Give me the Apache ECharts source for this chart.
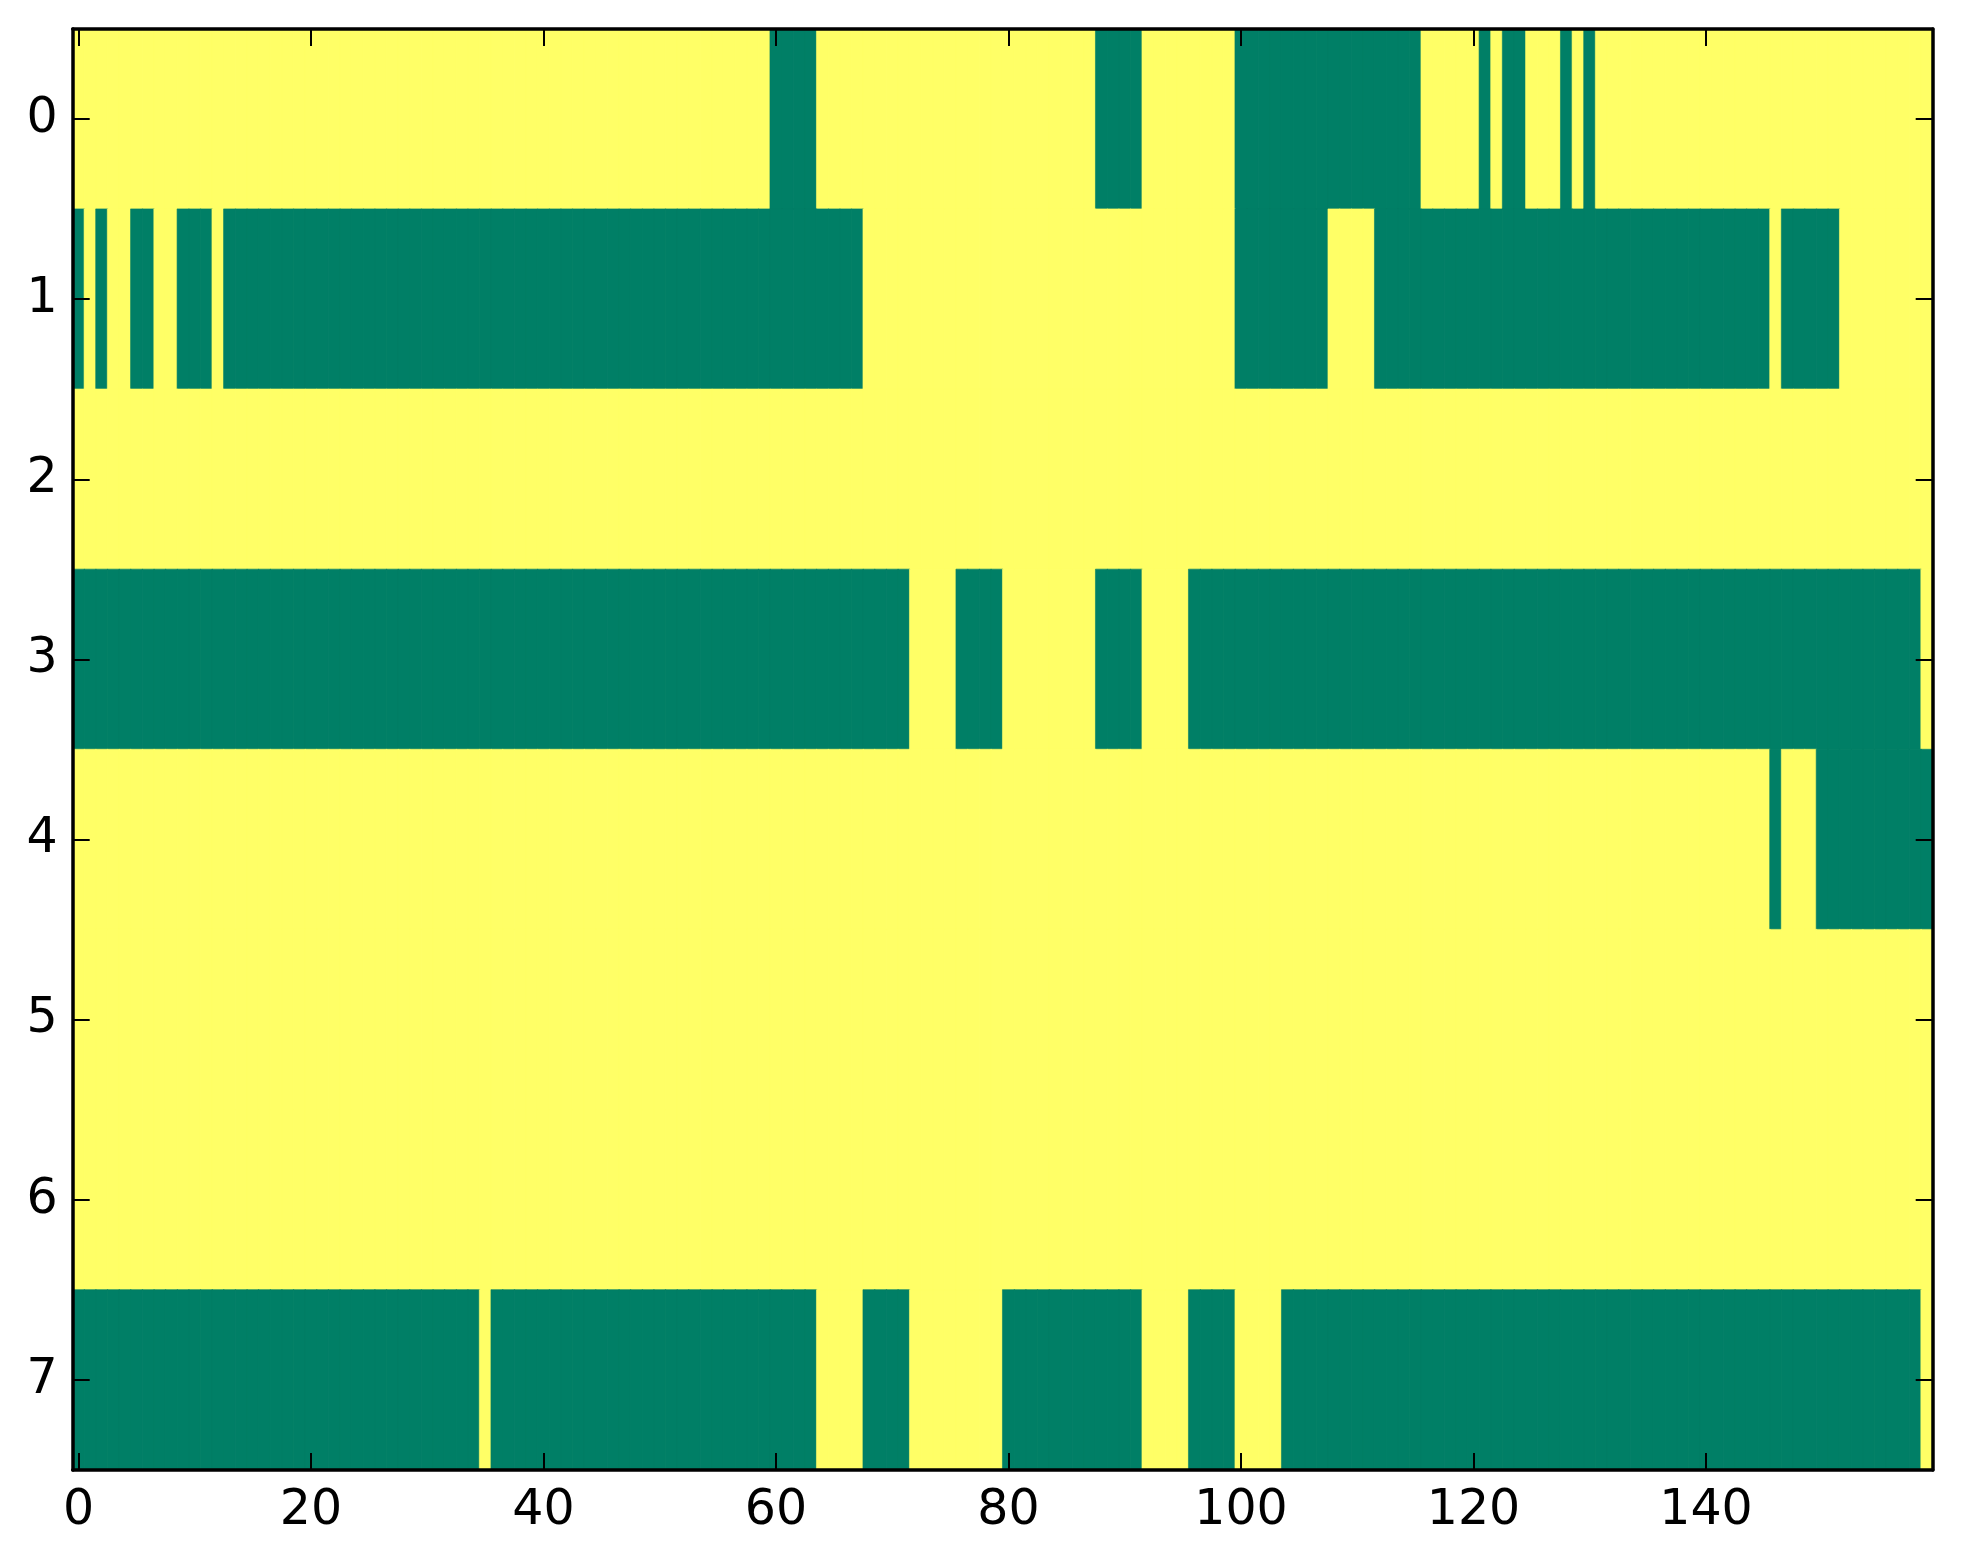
<!DOCTYPE html>
<html>
<head>
<meta charset="utf-8">
<style>
  html, body { margin: 0; padding: 0; background: #fff; }
  #chart { width: 1963px; height: 1564px; }
</style>
<script src="https://cdn.jsdelivr.net/npm/echarts@6/dist/echarts.min.js"></script>
</head>
<body>
<div id="chart"></div>
<script>
// one string per row, one digit per column (1 = green, 0 = yellow), grouped by tens
const row0 = '0000000000 0000000000 0000000000 0000000000 0000000000 0000000000 1111000000 0000000000 0000000011 1100000000 1111111111 1111110000 0101100010 1000000000 0000000000 0000000000';
const row1 = '1010011001 1101111111 1111111111 1111111111 1111111111 1111111111 1111111100 0000000000 0000000000 0000000000 1111111100 0011111111 1111111111 1111111111 1111110111 1100000000';
const row2 = '0000000000 0000000000 0000000000 0000000000 0000000000 0000000000 0000000000 0000000000 0000000000 0000000000 0000000000 0000000000 0000000000 0000000000 0000000000 0000000000';
const row3 = '1111111111 1111111111 1111111111 1111111111 1111111111 1111111111 1111111111 1100001111 0000000011 1100001111 1111111111 1111111111 1111111111 1111111111 1111111111 1111111110';
const row4 = '0000000000 0000000000 0000000000 0000000000 0000000000 0000000000 0000000000 0000000000 0000000000 0000000000 0000000000 0000000000 0000000000 0000000000 0000001000 1111111111';
const row5 = '0000000000 0000000000 0000000000 0000000000 0000000000 0000000000 0000000000 0000000000 0000000000 0000000000 0000000000 0000000000 0000000000 0000000000 0000000000 0000000000';
const row6 = '0000000000 0000000000 0000000000 0000000000 0000000000 0000000000 0000000000 0000000000 0000000000 0000000000 0000000000 0000000000 0000000000 0000000000 0000000000 0000000000';
const row7 = '1111111111 1111111111 1111111111 1111101111 1111111111 1111111111 1111000011 1100000000 1111111111 1100001111 0000111111 1111111111 1111111111 1111111111 1111111111 1111111110';

const rows = [row0, row1, row2, row3, row4, row5, row6, row7];
const rowLabels = ['0', '1', '2', '3', '4', '5', '6', '7'];
const xTickLabels = ['0', '20', '40', '60', '80', '100', '120', '140'];

const colorOn = '#007f66';
const colorOff = '#ffff66';

const grid = rows.map(r => r.replace(/\s/g, ''));
const columns = grid[0].split('').map((_, i) => String(i));

const cells = [];
grid.forEach((r, y) => {
  r.split('').forEach((v, x) => {
    const c = v === '1' ? colorOn : colorOff;
    cells.push({
      value: [x, y, Number(v)],
      // border in the same colour hides hairline seams between cells
      itemStyle: { color: c, borderColor: c, borderWidth: 0.6 }
    });
  });
});

const showTick = (index, value) => xTickLabels.indexOf(String(value)) !== -1;
const font = 'DejaVu Sans';
const line = { show: true, onZero: false, lineStyle: { color: '#000', width: 3.5 } };
const tick = { show: true, inside: true, length: 17, alignWithLabel: true, lineStyle: { color: '#000', width: 2 } };

const chart = echarts.init(document.getElementById('chart'), null, { renderer: 'canvas' });
chart.setOption({
  animation: false,
  backgroundColor: '#fff',
  grid: { left: 72.7, right: 30.3, top: 29, bottom: 94, containLabel: false },
  xAxis: [
    {
      type: 'category', data: columns, position: 'bottom', z: 10,
      axisLine: line,
      axisTick: Object.assign({}, tick, { interval: showTick }),
      axisLabel: { interval: showTick, margin: 17, color: '#000', fontSize: 49, fontFamily: font },
      splitLine: { show: false }
    },
    {
      type: 'category', data: columns, position: 'top', z: 10,
      axisLine: line,
      axisTick: Object.assign({}, tick, { interval: showTick }),
      axisLabel: { show: false },
      splitLine: { show: false }
    }
  ],
  yAxis: [
    {
      type: 'category', data: rowLabels, inverse: true, position: 'left', z: 10,
      axisLine: line,
      axisTick: Object.assign({}, tick, { interval: 0 }),
      axisLabel: { interval: 0, margin: 15, color: '#000', fontSize: 49, fontFamily: font },
      splitLine: { show: false }
    },
    {
      type: 'category', data: rowLabels, inverse: true, position: 'right', z: 10,
      axisLine: line,
      axisTick: Object.assign({}, tick, { interval: 0 }),
      axisLabel: { show: false },
      splitLine: { show: false }
    }
  ],
  series: [{
    type: 'heatmap',
    xAxisIndex: 0,
    yAxisIndex: 0,
    data: cells,
    emphasis: { disabled: true }
  }]
});
</script>
</body>
</html>
